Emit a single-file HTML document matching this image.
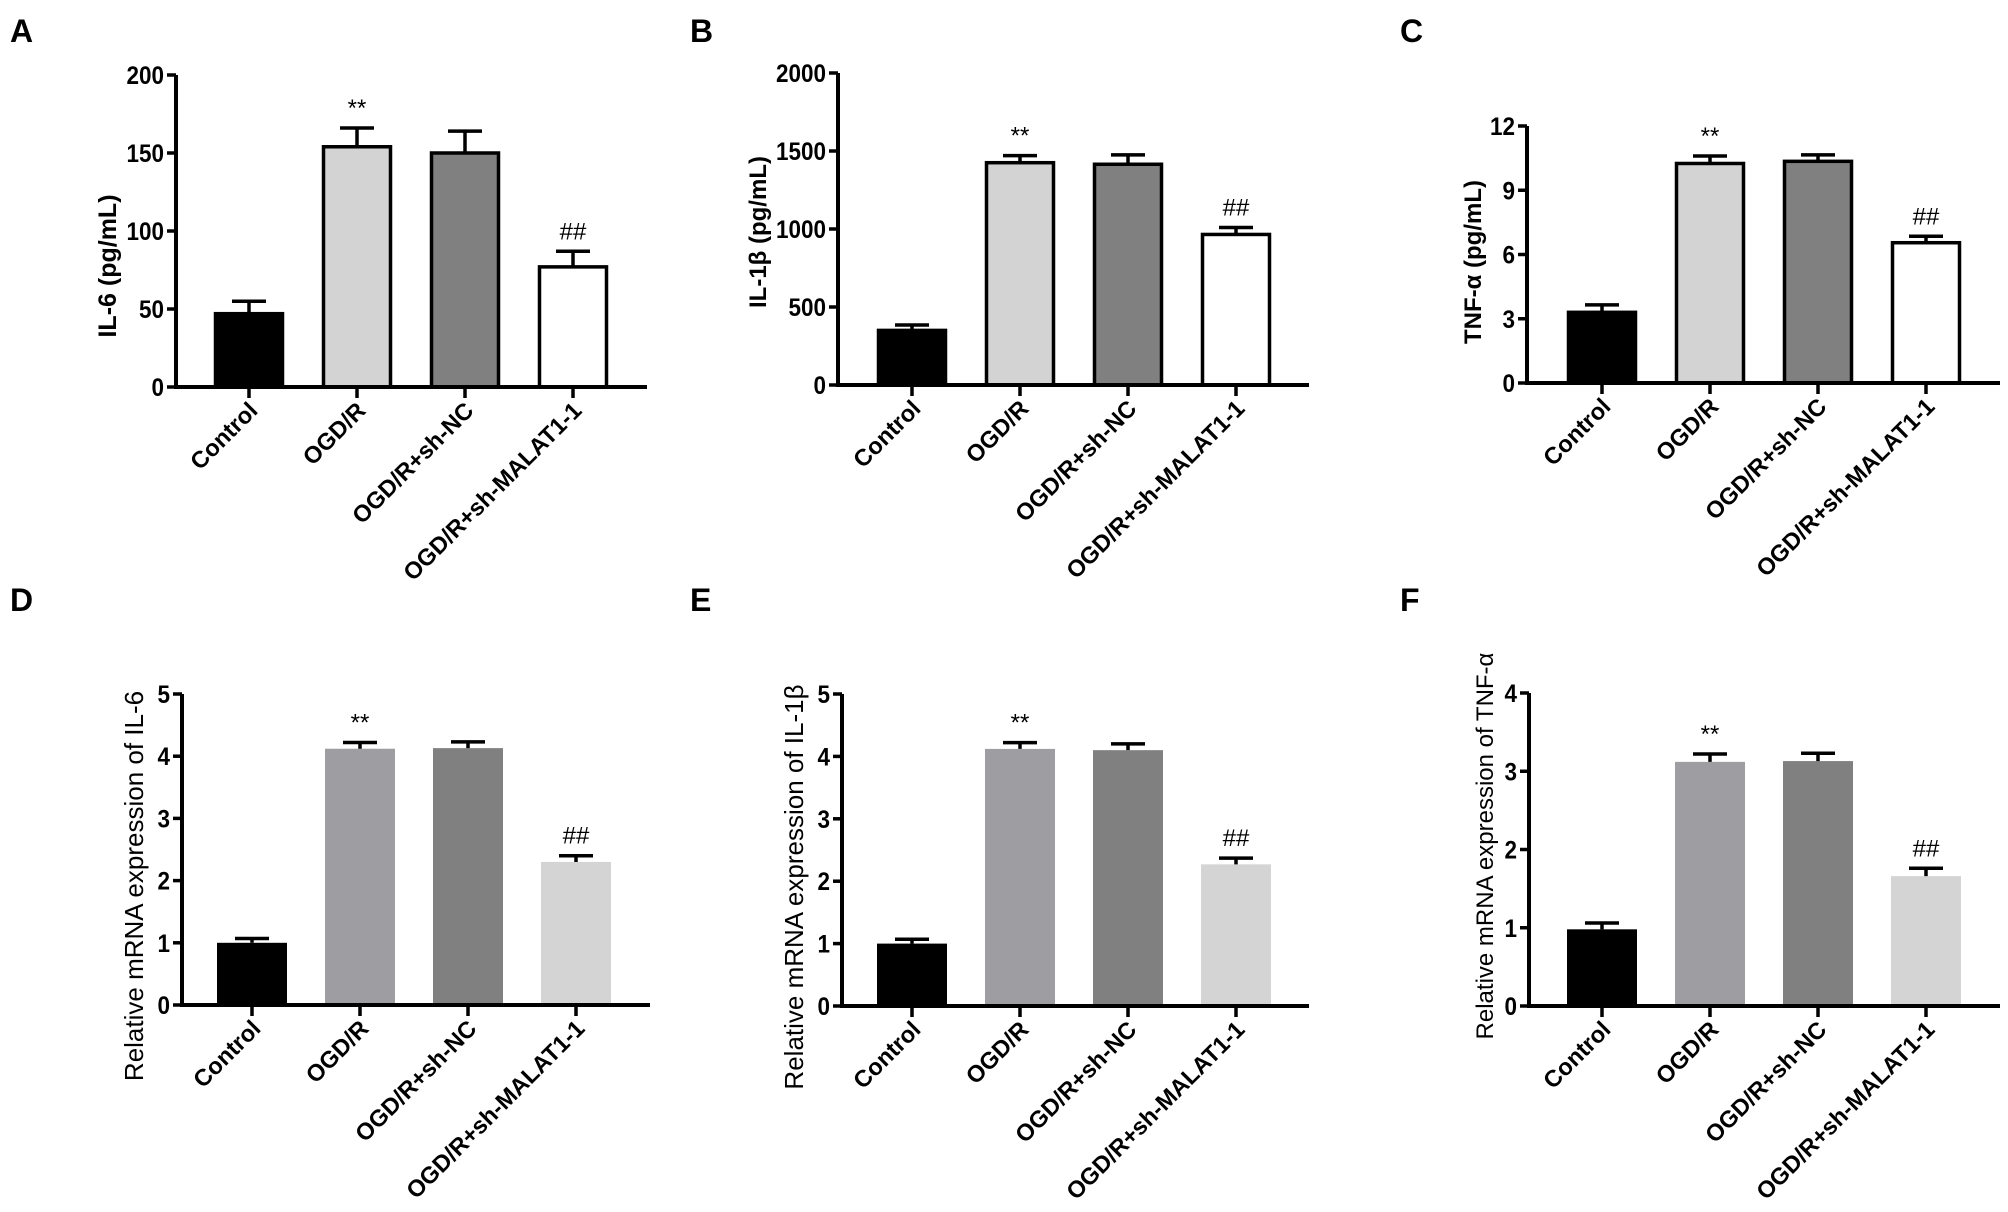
<!DOCTYPE html>
<html><head><meta charset="utf-8"><style>
html,body{margin:0;padding:0;background:#fff;}
svg{display:block;font-family:"Liberation Sans",Arial,sans-serif;}
</style></head><body>
<svg id="fig" width="2008" height="1212" viewBox="0 0 2008 1212"></svg>
<script>
const categories = ["Control","OGD/R","OGD/R+sh-NC","OGD/R+sh-MALAT1-1"];
const markers = ["","**","","##"];
const aValues = [47,154,150,77];
const aErrors = [8,12,14,10];
const aTicks = [0,50,100,150,200];
const bValues = [350,1425,1415,965];
const bErrors = [35,45,60,45];
const bTicks = [0,500,1000,1500,2000];
const cValues = [3.3,10.25,10.35,6.55];
const cErrors = [0.35,0.35,0.3,0.3];
const cTicks = [0,3,6,9,12];
const dValues = [1.0,4.12,4.13,2.3];
const dErrors = [0.07,0.1,0.1,0.1];
const dTicks = [0,1,2,3,4,5];
const eValues = [1.0,4.12,4.1,2.27];
const eErrors = [0.07,0.1,0.1,0.1];
const eTicks = [0,1,2,3,4,5];
const fValues = [0.98,3.12,3.13,1.66];
const fErrors = [0.08,0.1,0.1,0.1];
const fTicks = [0,1,2,3,4];

const NS="http://www.w3.org/2000/svg";
const svg=document.getElementById('fig');
function mk(tag,attrs,parent){const e=document.createElementNS(NS,tag);for(const k in attrs)e.setAttribute(k,attrs[k]);(parent||svg).appendChild(e);return e;}

const topFills=["#000000","#d3d3d3","#808080","#ffffff"];
const botFills=["#000000","#9e9ea2","#808080","#d4d4d4"];

function panel(o){
  const g=mk('g',{});
  
  
  const lt=mk('text',{x:o.lx,y:o.ly,'font-size':32,'font-weight':'bold'},g);lt.textContent=o.letter;
  
  
  const ymax=o.ticks[o.ticks.length-1];
  const Y=v=>o.y0-(v/ymax)*(o.y0-o.ytop);
  const X=i=>o.x1+i*108;
  o.values.forEach((v,i)=>{
    const cx=X(i),w=70;
    const outline=o.outline;
    const r=mk('rect',{x:cx-w/2+(outline?1.5:0),y:Y(v),width:w-(outline?3:0),height:o.y0-Y(v),fill:o.fills[i],stroke:outline?'#000':'none','stroke-width':outline?3.5:0},g);
    
    
    const top=Y(v+o.errors[i]);
    const eb=mk('path',{d:`M${cx} ${Y(v)} V${top} M${cx-17} ${top} H${cx+17}`,stroke:'#000','stroke-width':3.5,fill:'none'},g);
    
    
    if(markers[i]){
      const t=mk('text',{x:cx,y:top-12,'font-size':24,'text-anchor':'middle'},g);t.textContent=markers[i];
      
      
    }
  });
  const ax=mk('path',{d:`M${o.ax} ${o.ytop} V${o.y0+2} M${o.ax-2} ${o.y0} H${o.xend}`,stroke:'#000','stroke-width':4,fill:'none'},g);
  
  
  o.ticks.forEach(t=>{
    mk('line',{x1:o.ax-9,x2:o.ax,y1:Y(t),y2:Y(t),stroke:'#000','stroke-width':3.5},g);
    const tl=mk('text',{x:o.ax-12,y:Y(t)+9,'font-size':o.tfs,'font-weight':'bold','text-anchor':'end',textLength:String(t).length*o.tfs*0.5,lengthAdjust:'spacingAndGlyphs'},g);tl.textContent=t;
    
    
  });
  categories.forEach((c,i)=>{
    const cx=X(i);
    mk('line',{x1:cx,x2:cx,y1:o.y0,y2:o.y0+11,stroke:'#000','stroke-width':3.5},g);
    const tl=mk('text',{x:cx+10,y:o.y0+25,'font-size':23.5,'font-weight':'bold','text-anchor':'end',transform:`rotate(-45 ${cx+10} ${o.y0+25})`},g);tl.textContent=c;
    
    
  });
  const yt=mk('text',{x:o.tx,y:o.ty,'font-size':o.yfs,'font-weight':o.ybold?'bold':'normal','text-anchor':'middle',transform:`rotate(-90 ${o.tx} ${o.ty})`},g);yt.textContent=o.title;
  
  
}

panel({letter:'A',lx:10,ly:42,values:aValues,errors:aErrors,ticks:aTicks,ax:176,ytop:75,y0:387,xend:647,x1:249,fills:topFills,outline:true,tfs:25,title:'IL-6 (pg/mL)',tx:116,ty:266,yfs:25,ybold:true});
panel({letter:'B',lx:690,ly:42,values:bValues,errors:bErrors,ticks:bTicks,ax:838,ytop:73,y0:385,xend:1309,x1:912,fills:topFills,outline:true,tfs:25,title:'IL-1β (pg/mL)',tx:766,ty:232,yfs:24,ybold:true});
panel({letter:'C',lx:1400,ly:42,values:cValues,errors:cErrors,ticks:cTicks,ax:1527,ytop:126,y0:383,xend:2000,x1:1602,fills:topFills,outline:true,tfs:25,title:'TNF-α (pg/mL)',tx:1481,ty:262,yfs:24,ybold:true});
panel({letter:'D',lx:10,ly:611,values:dValues,errors:dErrors,ticks:dTicks,ax:182,ytop:694,y0:1005,xend:650,x1:252,fills:botFills,outline:false,tfs:25,title:'Relative mRNA expression of IL-6',tx:143,ty:886,yfs:26,ybold:false});
panel({letter:'E',lx:690,ly:611,values:eValues,errors:eErrors,ticks:eTicks,ax:842,ytop:694,y0:1006,xend:1309,x1:912,fills:botFills,outline:false,tfs:25,title:'Relative mRNA expression of IL-1β',tx:803,ty:887,yfs:26,ybold:false});
panel({letter:'F',lx:1400,ly:611,values:fValues,errors:fErrors,ticks:fTicks,ax:1529,ytop:693,y0:1006,xend:2000,x1:1602,fills:botFills,outline:false,tfs:25,title:'Relative mRNA expression of TNF-α',tx:1493,ty:846,yfs:24,ybold:false});
</script>
</body></html>
